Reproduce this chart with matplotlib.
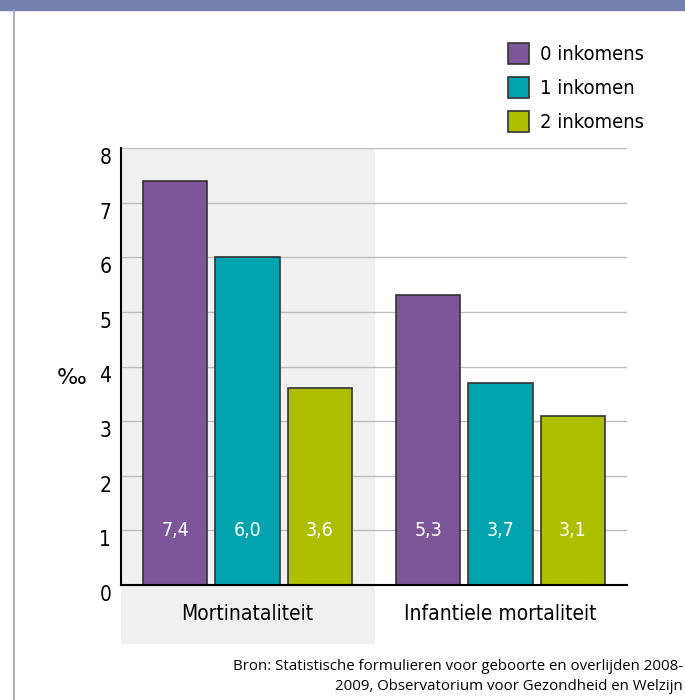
import numpy as np
import matplotlib.pyplot as plt
import matplotlib.transforms as mtrans
from matplotlib.patches import Rectangle
from matplotlib.font_manager import FontProperties

# data
categories = ['Mortinataliteit', 'Infantiele mortaliteit']
series = ['0 inkomens', '1 inkomen', '2 inkomens']
values_0 = [7.4, 5.3]
values_1 = [6.0, 3.7]
values_2 = [3.6, 3.1]
value_labels = [['7,4', '5,3'], ['6,0', '3,7'], ['3,6', '3,1']]
colors = ['#7d5699', '#00a3ae', '#aebf00']
yticks = [0, 1, 2, 3, 4, 5, 6, 7, 8]


def narrow(size):
    return FontProperties(family='DejaVu Sans', stretch='condensed', size=size)


W, H = 685, 700
fig = plt.figure(figsize=(W / 100, H / 100), dpi=100)

# top band and left border
fig.patches.append(Rectangle((0, 1 - 10 / H), 1, 10 / H, transform=fig.transFigure,
                             color='#7480ad', zorder=0))
fig.lines.append(plt.Line2D([14 / W, 14 / W], [0, 1 - 10 / H], transform=fig.transFigure,
                            color='#9aa3c6', lw=1.2))

ax = fig.add_axes([121 / W, 115 / H, 506 / W, 437 / H])
x = np.arange(len(categories))
width = 0.253
step = 0.285

# shaded background for first category
ax.add_patch(Rectangle((-0.5, -1.06), 1.0, 9.06, color='#f0f0f0', zorder=0, clip_on=False))

for i, vals in enumerate([values_0, values_1, values_2]):
    xpos = x + (i - 1) * step
    ax.bar(xpos, vals, width, color=colors[i], edgecolor='#333333', linewidth=1.2,
           label=series[i], zorder=3)
    for xp, lab in zip(xpos, value_labels[i]):
        ax.text(xp, 1.0, lab, ha='center', va='center', color='white',
                fontproperties=narrow(14), zorder=4)

ax.set_xlim(-0.5, 1.5)
ax.set_ylim(0, 8)
ax.set_yticks(yticks)
ax.set_yticklabels([str(t) for t in yticks], fontproperties=narrow(15))
ax.tick_params(axis='y', length=0, pad=7)
offset = mtrans.ScaledTranslation(0, -0.08, fig.dpi_scale_trans)
for lab in ax.get_yticklabels():
    lab.set_transform(lab.get_transform() + offset)
ax.set_xticks(x)
ax.set_xticklabels(categories, fontproperties=narrow(15))
ax.tick_params(axis='x', length=0, pad=14)
ax.grid(axis='y', color='#bdbdbd', lw=1.0, zorder=1)
ax.set_axisbelow(True)
ax.patch.set_alpha(0)

for s in ['top', 'right']:
    ax.spines[s].set_visible(False)
ax.spines['left'].set_linewidth(1.5)
ax.spines['bottom'].set_linewidth(1.5)
ax.spines['left'].set_zorder(5)
ax.spines['bottom'].set_zorder(5)

fig.text(72 / W, 1 - 378 / H, '‰', ha='center', va='center', fontsize=16)

# legend drawn by hand at the top right
for i, name in enumerate(series):
    top = 43 + i * 34
    fig.patches.append(Rectangle((508 / W, 1 - (top + 21) / H), 21 / W, 21 / H,
                                 transform=fig.transFigure, facecolor=colors[i],
                                 edgecolor='#333333', lw=1.2))
    fig.text(540 / W, 1 - (top + 11) / H, name, ha='left', va='center',
             fontproperties=narrow(14.5))

fig.text(683 / W, 1 - 667 / H, 'Bron: Statistische formulieren voor geboorte en overlijden 2008-',
         ha='right', va='center', fontsize=10.8, family='Open Sans')
fig.text(683 / W, 1 - 687 / H, '2009, Observatorium voor Gezondheid en Welzijn',
         ha='right', va='center', fontsize=10.8, family='Open Sans')

fig.savefig('out.png', dpi=100)
